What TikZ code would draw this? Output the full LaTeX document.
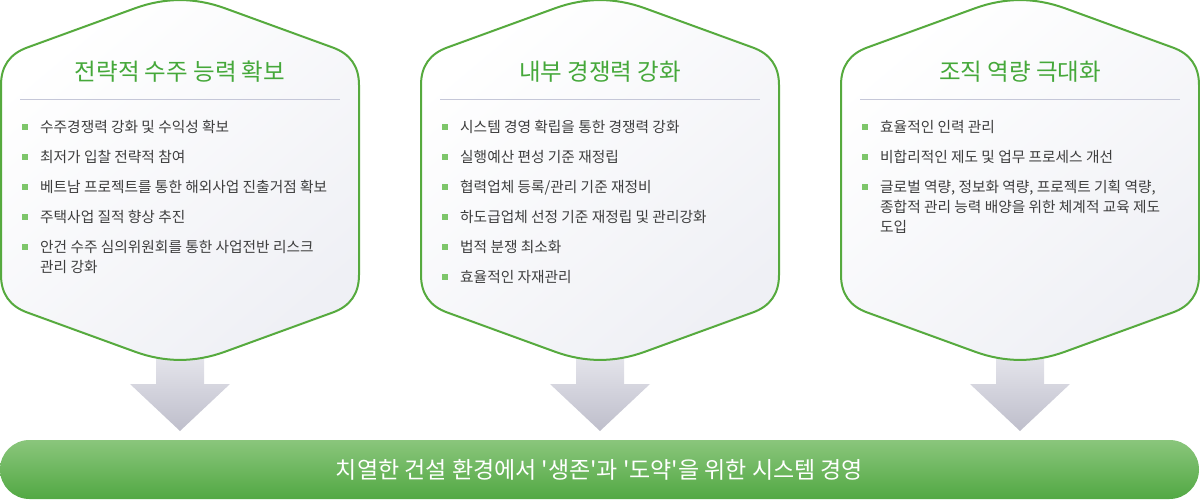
\documentclass[tikz,border=0pt]{standalone}
\usepackage{fontspec}
\usepackage{tikz,pgffor}
\usetikzlibrary{positioning}
\newfontfamily\krfont{Noto Sans CJK KR}
\definecolor{framegreen}{HTML}{56AA3E}
\definecolor{titlegreen}{HTML}{45A83A}
\definecolor{bulletgreen}{HTML}{7DC66A}
\definecolor{itemgray}{HTML}{3E3E3E}
\definecolor{rulegray}{HTML}{C5C7D8}
\definecolor{framefill}{HTML}{EFF0F5}
\definecolor{arrowtop}{HTML}{EAEAF0}
\definecolor{arrowbottom}{HTML}{BEBECB}
\definecolor{bartop}{HTML}{8AC67C}
\definecolor{barbottom}{HTML}{52A843}
\tikzset{
  frame/.style={draw=framegreen, line width=2pt, top color=white, bottom color=framefill, shading angle=40},
  heading/.style={text=titlegreen, font=\krfont\fontsize{23.5}{27}\selectfont},
  rule/.style={draw=rulegray, line width=1pt},
  sqbullet/.style={fill=bulletgreen, minimum size=5.5pt, inner sep=0pt},
  item/.style={anchor=north west, inner sep=0pt, align=left, text=itemgray, font=\krfont\fontsize{14.7}{20}\selectfont},
  downarrow/.style={top color=arrowtop, bottom color=arrowbottom},
  goalbar/.style={rounded corners=29.5pt, minimum width=1199pt, minimum height=59pt, top color=bartop, bottom color=barbottom, text=white, font=\krfont\fontsize{23}{27}\selectfont}
}

\begin{document}
\begin{tikzpicture}[x=1pt,y=-1pt]
\useasboundingbox (0,0) rectangle (1200,500);
% arrows first, the frames cover their tops
\foreach \cx in {180,600,1020}
  {\shade[downarrow] (\cx-24,345) -- (\cx+24,345) -- (\cx+24,384) -- (\cx+50,384)
     -- (\cx,431) -- (\cx-50,384) -- (\cx-24,384) -- cycle;}
% hexagon frames
\foreach \cx in {180,600,1020}
  {\begin{scope}[shift={(\cx,0)}]
   \shadedraw[frame] (-179,180) -- (-179,85) .. controls (-179,66.3) and (-170.2,53.8) .. (-152.7,47.5)
     -- (-44.5,8.1) .. controls (-14.8,-2.6) and (14.8,-2.6) .. (44.5,8.1)
     -- (152.7,47.5) .. controls (170.2,53.8) and (179,66.3) .. (179,85)
     -- (179,275) .. controls (179,293.7) and (170.2,306.2) .. (152.7,312.5)
     -- (44.5,351.9) .. controls (14.8,362.6) and (-14.8,362.6) .. (-44.5,351.9)
     -- (-152.7,312.5) .. controls (-170.2,306.2) and (-179,293.7) .. (-179,275) -- cycle;
   \draw[rule] (-160,100) -- (160,100);
   \end{scope}}

\node[heading] (title1) at (180,72) {전략적 수주 능력 확보};
\node[heading] (title2) at (600,72) {내부 경쟁력 강화};
\node[heading] (title3) at (1020,72) {조직 역량 극대화};

\foreach \txt [count=\i] in {수주경쟁력 강화 및 수익성 확보, 최저가 입찰 전략적 참여,
    베트남 프로젝트를 통한 해외사업 진출거점 확보, 주택사업 질적 향상 추진,
    {안건 수주 심의위원회를 통한 사업전반 리스크\\관리 강화}}
  {\node[sqbullet] (ba\i) at (25,97+30*\i) {};
   \node[item] (ta\i) at (40,90+30*\i) {\txt};}

\foreach \txt [count=\i] in {시스템 경영 확립을 통한 경쟁력 강화, 실행예산 편성 기준 재정립,
    협력업체 등록/관리 기준 재정비, 하도급업체 선정 기준 재정립 및 관리강화,
    법적 분쟁 최소화, 효율적인 자재관리}
  {\node[sqbullet] (bb\i) at (445,97+30*\i) {};
   \node[item] (tb\i) at (460,90+30*\i) {\txt};}

\foreach \txt [count=\i] in {효율적인 인력 관리, 비합리적인 제도 및 업무 프로세스 개선,
    {글로벌 역량, 정보화 역량, 프로젝트 기획 역량,\\종합적 관리 능력 배양을 위한 체계적 교육 제도\\도입}}
  {\node[sqbullet] (bc\i) at (865,97+30*\i) {};
   \node[item] (tc\i) at (880,90+30*\i) {\txt};}

\node[goalbar] (goal) at (599.5,469.5) {치열한 건설 환경에서 '생존'과 '도약'을 위한 시스템 경영};
\end{tikzpicture}
\end{document}
